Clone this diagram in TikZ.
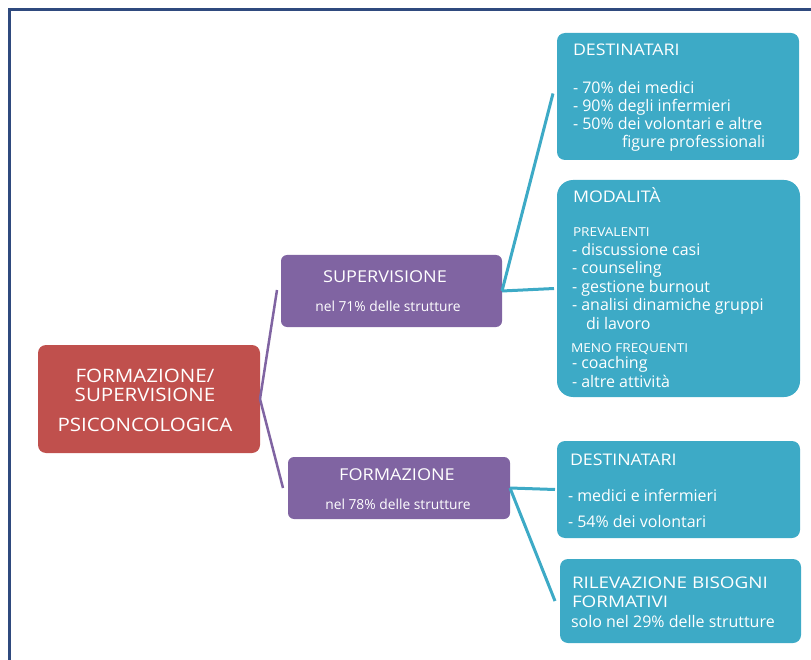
\documentclass[tikz,border=0pt]{standalone}
\usepackage{fontspec}
\setmainfont{Open Sans}[Ligatures=NoCommon]
\newfontfamily\capsf{Open Sans}[FakeStretch=1.11]
\newfontfamily\capsw{Open Sans}[FakeStretch=1.18]
\definecolor{frameblue}{HTML}{2F4A7E}
\definecolor{boxred}{HTML}{C0504D}
\definecolor{boxpurple}{HTML}{8064A2}
\definecolor{boxteal}{HTML}{3DAAC6}
\tikzset{
  boxbase/.style={rectangle, inner sep=0pt, outer sep=0pt, anchor=north west},
  redbox/.style={boxbase, fill=boxred, rounded corners=8pt},
  purplebox/.style={boxbase, fill=boxpurple, rounded corners=6pt},
  tealbox/.style={boxbase, fill=boxteal, rounded corners=8pt},
  txt/.style={inner sep=0pt, outer sep=0pt, text=white, anchor=base west},
  ctxt/.style={inner sep=0pt, outer sep=0pt, text=white, anchor=base},
  big/.style={font=\capsf\fontsize{18.5}{21}\selectfont},
  mid/.style={font=\capsf\fontsize{16.3}{19}\selectfont},
  capn/.style={font=\capsf\fontsize{16}{19}\selectfont},
  capw/.style={font=\capsw\fontsize{16}{19}\selectfont},
  norm/.style={font=\fontsize{16}{19}\selectfont},
  small/.style={font=\fontsize{13.8}{16}\selectfont},
  tiny/.style={font=\capsf\fontsize{12.3}{14}\selectfont},
  purpleline/.style={draw=boxpurple, line width=2.5pt},
  tealline/.style={draw=boxteal, line width=3pt},
}
\begin{document}
\begin{tikzpicture}[x=1pt,y=-1pt]
\useasboundingbox (0,0) rectangle (811,660);
% frame
\coordinate (fa) at (9,660);
\coordinate (fb) at (9,9.5);
\coordinate (fc) at (811,9.5);
\draw[frameblue, line width=3pt] (fa) -- (fb) -- (fc);

% boxes
\node[redbox, minimum width=222pt, minimum height=108pt] (root) at (38,345) {};
\node[purplebox, minimum width=221pt, minimum height=72pt] (sup) at (281,255) {};
\node[purplebox, minimum width=222pt, minimum height=62pt] (form) at (288,457) {};
\node[tealbox, minimum width=242pt, minimum height=127pt] (dest1) at (557,33) {};
\node[tealbox, rounded corners=16pt, minimum width=243pt, minimum height=217pt] (moda) at (557,180) {};
\node[tealbox, minimum width=243pt, minimum height=97pt] (dest2) at (557,441) {};
\node[tealbox, minimum width=241pt, minimum height=84pt] (rilev) at (560,559) {};

% connectors
\draw[purpleline] (root.east) -- ([yshift=1pt,xshift=-4pt]sup.west);
\draw[purpleline] (root.east) -- ([xshift=-5pt]form.west);
\draw[tealline] (sup.east) -- ([xshift=-4pt,yshift=3pt]dest1.west);
\draw[tealline] (sup.east) -- ([xshift=-3pt]moda.west);
\draw[tealline] (form.east) -- ([xshift=-2pt]dest2.west);
\draw[tealline] (form.east) -- ([xshift=-5pt]rilev.west);

% root text
\node[ctxt, big] (r1) at (145,382) {FORMAZIONE/};
\node[ctxt, big] (r2) at (145,401) {SUPERVISIONE};
\node[ctxt, big] (r3) at (145,431) {PSICONCOLOGICA};

% supervisione
\node[ctxt, mid] (s1) at (385,283) {SUPERVISIONE};
\node[ctxt, small] (s2) at (388,312) {nel 71\% delle strutture};
% formazione
\node[ctxt, mid] (f1) at (397,480) {FORMAZIONE};
\node[ctxt, small] (f2) at (398,509) {nel 78\% delle strutture};

% destinatari 1
\node[txt, capn] (a1) at (573,56) {DESTINATARI};
\node[txt, norm] (a2) at (573,94) {- 70\% dei medici};
\node[txt, norm] (a3) at (573,112) {- 90\% degli infermieri};
\node[txt, norm] (a4) at (573,130) {- 50\% dei volontari e altre};
\node[txt, norm] (a5) at (622,148) {figure professionali};

% modalita
\node[txt, capn] (m1) at (573,203) {MODALITÀ};
\node[txt, tiny] (m2) at (573,237) {PREVALENTI};
\node[txt, norm] (m3) at (572,256) {- discussione casi};
\node[txt, norm] (m4) at (572,274) {- counseling};
\node[txt, norm] (m5) at (572,293) {- gestione burnout};
\node[txt, norm] (m6) at (572,311) {- analisi dinamiche gruppi};
\node[txt, norm] (m7) at (586,329) {di lavoro};
\node[txt, tiny] (m8) at (571,352) {MENO FREQUENTI};
\node[txt, norm] (m9) at (572,368) {- coaching};
\node[txt, norm] (m10) at (572,387) {- altre attività};

% destinatari 2
\node[txt, capn] (b1) at (570,465) {DESTINATARI};
\node[txt, norm] (b2) at (568,501) {- medici e infermieri};
\node[txt, norm] (b3) at (568,527) {- 54\% dei volontari};

% rilevazione
\node[txt, capw] (c1) at (572,588) {RILEVAZIONE BISOGNI};
\node[txt, capw] (c2) at (572,607) {FORMATIVI};
\node[txt, norm] (c3) at (571,627) {solo nel 29\% delle strutture};
\end{tikzpicture}
\end{document}
